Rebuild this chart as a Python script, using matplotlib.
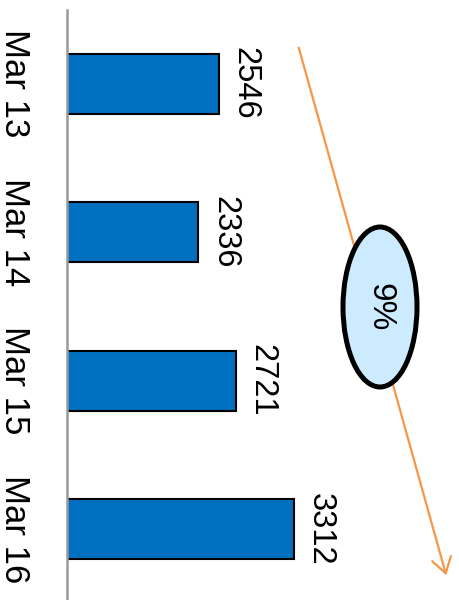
import matplotlib.pyplot as plt
from matplotlib.patches import Ellipse, FancyArrowPatch

# daily counts
dias = ['Mar 13', 'Mar 14', 'Mar 15', 'Mar 16']
valores = [2546, 2336, 2721, 3312]
variacao = '9%'

plt.rcParams['font.family'] = ['Liberation Sans', 'DejaVu Sans']

fig = plt.figure(figsize=(4.59, 6.0), dpi=100)
ax = fig.add_axes([67 / 459, 0, 392 / 459, 590 / 600])

pos = list(range(len(dias)))
ax.barh(pos, valores, height=0.404, left=0, color='#0070C0', edgecolor='black', linewidth=1.5)
ax.set_xlim(1000, 5000)
ax.set_ylim(3.478, -0.495)

# values next to each bar, rotated like the whole chart
for i, v in enumerate(valores):
    ax.annotate(str(v), xy=(v, i), xytext=(8, 0), textcoords='offset points',
                rotation=-90, ha='left', va='center', fontsize=23.5)

ax.set_yticks(pos)
ax.set_yticklabels(dias, rotation=-90, va='center', fontsize=25)
ax.tick_params(axis='y', length=0, pad=26)
ax.set_xticks([])
for s in ['top', 'right', 'bottom']:
    ax.spines[s].set_visible(False)
ax.spines['left'].set_color('#999999')
ax.spines['left'].set_linewidth(1.8)

# trend arrow and growth bubble
W, H = 459, 600
seta = FancyArrowPatch((298 / W, 1 - 45 / H), (447 / W, 1 - 578 / H), transform=fig.transFigure,
                       arrowstyle='->,head_length=0.55,head_width=0.35', mutation_scale=20,
                       color='#F79646', linewidth=1.6)
fig.patches.append(seta)
bolha = Ellipse((380 / W, 1 - 307 / H), 74 / W, 160 / H, transform=fig.transFigure,
                facecolor='#CCEBFF', edgecolor='black', linewidth=3.6)
fig.patches.append(bolha)
fig.text(380 / W, 1 - 307 / H, variacao, rotation=-90, ha='center', va='center', fontsize=24)

fig.savefig('out.png', dpi=100)
